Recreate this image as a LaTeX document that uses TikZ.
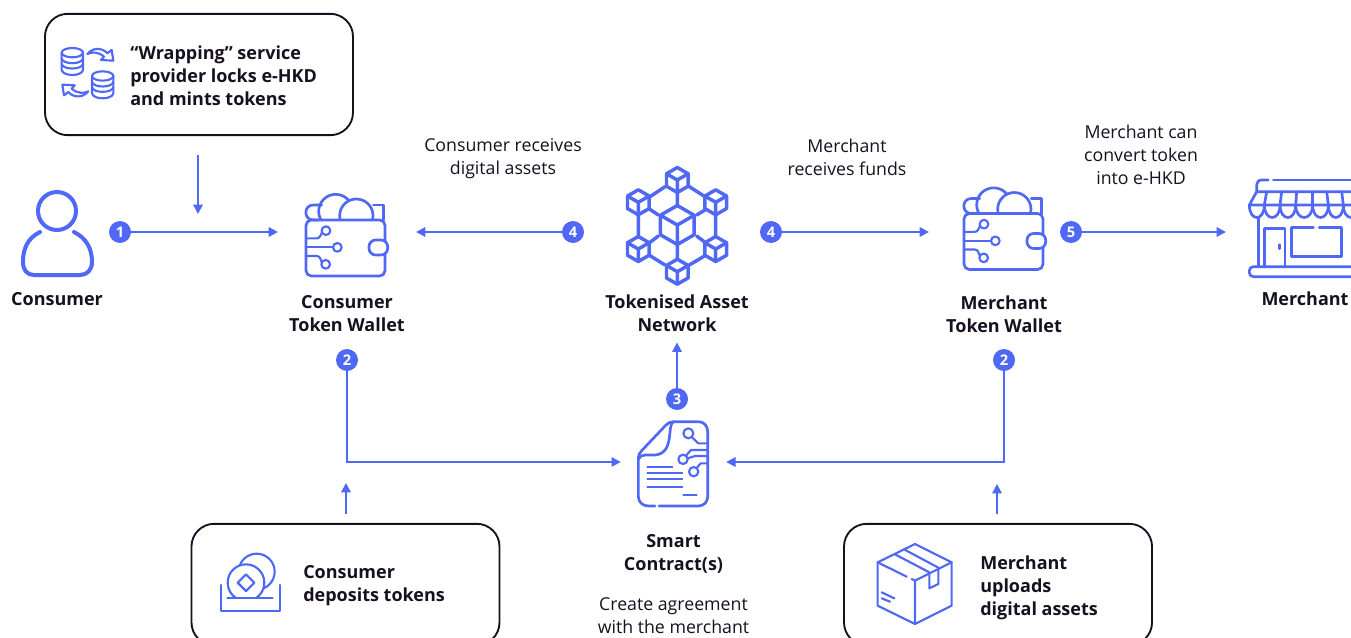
\documentclass[tikz,border=0pt]{standalone}
\usepackage{fontspec}
\setmainfont{Open Sans}
\usetikzlibrary{positioning, arrows.meta}
\definecolor{flowblue}{RGB}{79,104,245}
\definecolor{inkdark}{RGB}{22,16,32}
\tikzset{
  flow/.style = {draw = flowblue, line width = 1.5pt, -{Triangle[length = 7pt, width = 7pt]}},
  badge/.style = {circle, fill = flowblue, text = white, inner sep = 0pt, minimum size = 16.5pt, font = \fontsize{11}{12}\selectfont\bfseries},
  notebox/.style = {draw = inkdark, line width = 1.4pt, rounded corners = 17pt, minimum width = 231pt, minimum height = 91pt},
  iconbox/.style = {inner sep = 0pt, outer sep = 0pt},
  icon/.style = {draw = flowblue, line width = 2pt, line cap = round, line join = round},
  iconthin/.style = {draw = flowblue, line width = 1.6pt, line cap = round, line join = round},
  strong/.style = {align = center, text = inkdark, inner sep = 0pt, font = \fontsize{13.5}{17.2}\selectfont\bfseries},
  plain/.style = {align = center, text = inkdark, inner sep = 0pt, font = \fontsize{13.3}{17.2}\selectfont},
  zoomed/.style = {x = 0.25pt, y = -0.25pt}
}
\newcommand{\walleticon}[2]{
  \begin{scope}[shift = {(#1, #2)}, zoomed]
    \draw[icon] (145, 150) -- (130, 150) .. controls (100, 150) and (100, 105) .. (130, 105) -- (155, 105);
    \draw[icon] (310, 105) -- (340, 105) -- (340, 150);
    \begin{scope}
      \clip (100, 50) rectangle (330, 150);
      \draw[icon] (197, 124) circle [radius = 51];
      \draw[icon, fill = white] (259, 137) circle [radius = 50];
    \end{scope}
    \draw[icon, rounded corners = 4pt] (108, 150) -- (108, 318) -- (345, 318) -- (345, 150) -- cycle;
    \draw[icon, fill = white, rounded corners = 5pt] (297, 210) -- (297, 255) -- (353, 255) -- (353, 210) -- cycle;
    \draw[iconthin] (108, 205) -- (140, 205) .. controls (150, 205) and (152, 195) .. (156, 187);
    \draw[iconthin] (168, 182) circle [radius = 13];
    \draw[iconthin] (108, 232) -- (188, 232);
    \draw[iconthin] (202, 232) circle [radius = 13];
    \draw[iconthin] (108, 258) -- (140, 258) .. controls (150, 258) and (152, 268) .. (155, 276);
    \draw[iconthin] (167, 283) circle [radius = 13];
  \end{scope}
}
\newcommand{\cubeicon}[3]{
  \begin{scope}[shift = {(#1, #2)}, x = #3*0.75pt, y = -#3*0.75pt]
    \draw[icon, line width = 2.6pt] (0, -1) -- (0.866, -0.5) -- (0.866, 0.5) -- (0, 1) -- (-0.866, 0.5) -- (-0.866, -0.5) -- cycle;
    \draw[icon, line width = 2.6pt] (-0.866, -0.5) -- (0, 0) -- (0.866, -0.5) (0, 0) -- (0, 1);
  \end{scope}
}
\begin{document}
\begin{tikzpicture}[x = 0.75pt, y = -0.75pt]
\useasboundingbox (0, 0) rectangle (1351, 638);

% note boxes
\node (wrapbox) [notebox] at (199, 74.5) {};
\node (depositbox) [notebox] at (345.5, 584.5) {};
\node (uploadbox) [notebox] at (998, 584.5) {};
\node (wraptext) [strong, align = left, anchor = west] at (130, 76) {``Wrapping'' service\\provider locks e-HKD\\and mints tokens};
\node (deposittext) [strong, align = left, anchor = west] at (303, 586) {Consumer\\deposits tokens};
\node (uploadtext) [strong, align = left, anchor = west] at (980, 588) {Merchant\\uploads\\digital assets};

% icon places
\node (consumer) [iconbox, minimum width = 54pt, minimum height = 66pt] at (57, 232) {};
\node (conswallet) [iconbox, minimum width = 103.5pt, minimum height = 66pt] at (347, 232) {};
\node (network) [iconbox, minimum width = 60pt, minimum height = 80pt] at (677, 225) {};
\node (merchwallet) [iconbox, minimum width = 112.5pt, minimum height = 66pt] at (1004, 232) {};
\node (shop) [iconbox, minimum width = 111pt, minimum height = 66pt] at (1300, 232) {};
\node (contract) [iconbox, minimum width = 79pt, minimum height = 64pt] at (673.5, 462) {};

% labels
\node (conslabel) [strong] at (57, 299) {Consumer};
\node (conswalletlabel) [strong, below = 14.4pt of conswallet] {Consumer\\Token Wallet};
\node (netlabel) [strong, below = 4pt of network, outer sep = 8.25pt] {Tokenised Asset\\Network};
\node (merchwalletlabel) [strong, below = 14.4pt of merchwallet] {Merchant\\Token Wallet};
\node (shoplabel) [strong] at (1305, 299) {Merchant};
\node (contractlabel) [strong, below = 22.5pt of contract] {Smart\\Contract(s)};
\node (agreetext) [plain, below = 17.8pt of contractlabel] {Create agreement\\with the merchant};
\node (recvassets) [plain] at (503, 159) {Consumer receives\\digital assets};
\node (recvfunds) [plain] at (847, 157) {Merchant\\receives funds};
\node (convert) [plain] at (1141, 155) {Merchant can\\convert token\\into e-HKD};

% badges
\node (badgeone) [badge] at (120, 232) {1};
\node (badgetwoa) [badge] at (347, 360) {2};
\node (badgetwob) [badge] at (1004, 360) {2};
\node (badgethree) [badge] at (677, 399) {3};
\node (badgefoura) [badge] at (573, 232) {4};
\node (badgefourb) [badge] at (771, 232) {4};
\node (badgefive) [badge] at (1071, 232) {5};

% free ends
\coordinate (wrapstart) at (198, 155);
\coordinate (wrapend) at (198, 214);
\coordinate (depositstart) at (346, 514);
\coordinate (depositend) at (346, 483);
\coordinate (uploadstart) at (997, 514);
\coordinate (uploadend) at (997, 484);

% connectors
\draw[flow] (wrapstart) -- (wrapend);
\draw[flow] (badgeone) -- (conswallet);
\draw[flow] (badgefoura) -- (conswallet);
\draw[flow] (badgefourb) -- (merchwallet);
\draw[flow] (badgefive) -- (shop);
\draw[flow] (badgethree) -- (netlabel);
\draw[flow] (badgetwoa) |- (contract);
\draw[flow] (badgetwob) |- (contract);
\draw[flow] (depositstart) -- (depositend);
\draw[flow] (uploadstart) -- (uploadend);

% person
\draw[icon, line width = 3pt] (57, 211) circle [radius = 19];
\draw[icon, line width = 3pt] (40, 232) .. controls (28, 238) and (23, 248) .. (23, 262) .. controls (23, 270) and (27, 275) .. (34, 275) -- (80, 275) .. controls (87, 275) and (92, 270) .. (92, 262) .. controls (92, 248) and (86, 238) .. (74, 232);

% wallets
\walleticon{270}{170}
\walleticon{928}{163.5}

% network
\foreach \cx/\cy in {677.3/180, 638.3/202.3, 715.7/202.3, 638.3/249, 715.7/249, 677.3/271.7} {
  \cubeicon{\cx}{\cy}{12.5}
}
\cubeicon{677.3}{225}{19.5}
\begin{scope}[shift = {(600, 150)}, zoomed]
  \draw[icon, line width = 2.6pt] (195, 110) -- (150, 140) (268, 110) -- (315, 140) (232, 127) -- (232, 168) (115, 195) -- (115, 258) (347, 195) -- (347, 258);
  \draw[icon, line width = 2.6pt] (175, 195) -- (150, 178) (290, 195) -- (318, 178) (175, 258) -- (150, 277) (290, 258) -- (315, 277) (232, 285) -- (232, 328) (150, 317) -- (195, 345) (315, 317) -- (268, 345);
\end{scope}

% smart contract
\begin{scope}[shift = {(610, 400)}, zoomed]
  \draw[icon] (135, 318) -- (115, 318) .. controls (97, 318) and (85, 305) .. (85, 290) -- (85, 172) .. controls (85, 165) and (90, 158) .. (95, 152) -- (165, 78) .. controls (172, 70) and (180, 65) .. (190, 65) -- (265, 65) .. controls (282, 65) and (293, 78) .. (293, 95) -- (293, 290) .. controls (293, 305) and (282, 318) .. (265, 318) -- (147, 318);
  \draw[icon] (190, 65) .. controls (170, 75) and (195, 160) .. (135, 165) -- (105, 165) .. controls (95, 165) and (88, 170) .. (85, 178);
  \draw[iconthin] (112, 200) -- (187, 200) (112, 218) -- (217, 218) (112, 238) -- (217, 238) (112, 260) -- (217, 260) (220, 285) -- (260, 285);
  \draw[iconthin] (235, 100) circle [radius = 15];
  \draw[iconthin] (245, 111) -- (265, 130) -- (293, 130);
  \draw[iconthin] (219, 178) circle [radius = 14];
  \draw[iconthin] (228, 167) -- (243, 150) -- (293, 150);
  \draw[iconthin] (233, 175) -- (255, 168) -- (293, 168);
  \draw[iconthin] (251, 215) circle [radius = 14];
  \draw[iconthin] (260, 204) -- (272, 190) -- (293, 190);
\end{scope}

% shop
\begin{scope}[shift = {(1230, 170)}, zoomed]
  \draw[icon] (115, 30) -- (95, 30) .. controls (85, 30) and (80, 37) .. (80, 45) -- (80, 65) -- (380, 65);
  \draw[icon] (130, 30) -- (380, 30);
  \draw[icon] (80, 65) -- (58, 105) -- (380, 105);
  \foreach \xa/\xb in {110/103, 155/150, 200/197, 248/248, 290/295, 335/340} {
    \draw[icon] (\xa, 65) -- (\xb, 105);
  }
  \foreach \xa/\xb in {58/103, 103/150, 150/197, 197/248, 248/295, 295/340, 340/386} {
    \draw[icon] (\xa, 105) .. controls (\xa, 155) and (\xb, 155) .. (\xb, 105);
  }
  \draw[icon] (85, 145) -- (85, 290);
  \draw[icon] (103, 290) -- (103, 175) -- (165, 175) -- (165, 290);
  \draw[icon] (148, 224) -- (148, 236);
  \draw[icon] (250, 172) -- (185, 172) -- (185, 260) -- (335, 260) -- (335, 172) -- (268, 172);
  \draw[icon, rounded corners = 3pt] (380, 290) -- (58, 290) -- (58, 320) -- (380, 320);
\end{scope}

% wrap icon
\begin{scope}[shift = {(30, 0)}, zoomed]
  \foreach \dbx/\dby in {127/158, 218/228} {
    \draw[iconthin] (\dbx, \dby) ellipse [x radius = 32, y radius = 14];
    \draw[iconthin] (\dbx - 32, \dby) -- (\dbx - 32, \dby + 52) .. controls (\dbx - 28, \dby + 72) and (\dbx + 28, \dby + 72) .. (\dbx + 32, \dby + 52) -- (\dbx + 32, \dby);
    \draw[iconthin] (\dbx - 32, \dby + 18) .. controls (\dbx - 28, \dby + 36) and (\dbx + 28, \dby + 36) .. (\dbx + 32, \dby + 18);
    \draw[iconthin] (\dbx - 32, \dby + 34) .. controls (\dbx - 28, \dby + 52) and (\dbx + 28, \dby + 52) .. (\dbx + 32, \dby + 34);
  }
  \draw[iconthin] (172, 162) .. controls (195, 135) and (225, 150) .. (232, 160) -- (245, 150) -- (250, 182) -- (213, 180) -- (222, 170) .. controls (205, 155) and (185, 155) .. (172, 162) -- cycle;
  \draw[iconthin] (175, 274) .. controls (152, 301) and (122, 286) .. (115, 276) -- (102, 286) -- (97, 254) -- (134, 256) -- (125, 266) .. controls (142, 281) and (162, 281) .. (175, 274) -- cycle;
\end{scope}

% coin icon
\begin{scope}[shift = {(190, 520)}, zoomed]
  \begin{scope}
    \clip (50, 50) rectangle (320, 235);
    \draw[iconthin] (200, 155) circle [radius = 54];
    \draw[iconthin, fill = white] (168, 188) circle [radius = 55];
  \end{scope}
  \draw[iconthin] (168, 163) -- (193, 188) -- (168, 213) -- (143, 188) -- cycle;
  \draw[iconthin] (112, 235) -- (248, 235);
  \draw[iconthin] (92, 195) -- (92, 272) -- (270, 272) -- (270, 195);
\end{scope}

% parcel icon
\begin{scope}[shift = {(850, 520)}, zoomed]
  \draw[iconthin] (195, 72) -- (305, 127) -- (305, 257) -- (195, 312) -- (83, 257) -- (83, 127) -- cycle;
  \draw[iconthin] (83, 127) -- (170, 170) (185, 177) -- (195, 182) -- (305, 127) (195, 182) -- (195, 312);
  \draw[iconthin] (135, 103) -- (238, 157) -- (238, 205) -- (265, 192) -- (265, 143) -- (162, 88);
  \draw[iconthin] (95, 217) -- (133, 235) (95, 235) -- (120, 245);
\end{scope}

\end{tikzpicture}
\end{document}
